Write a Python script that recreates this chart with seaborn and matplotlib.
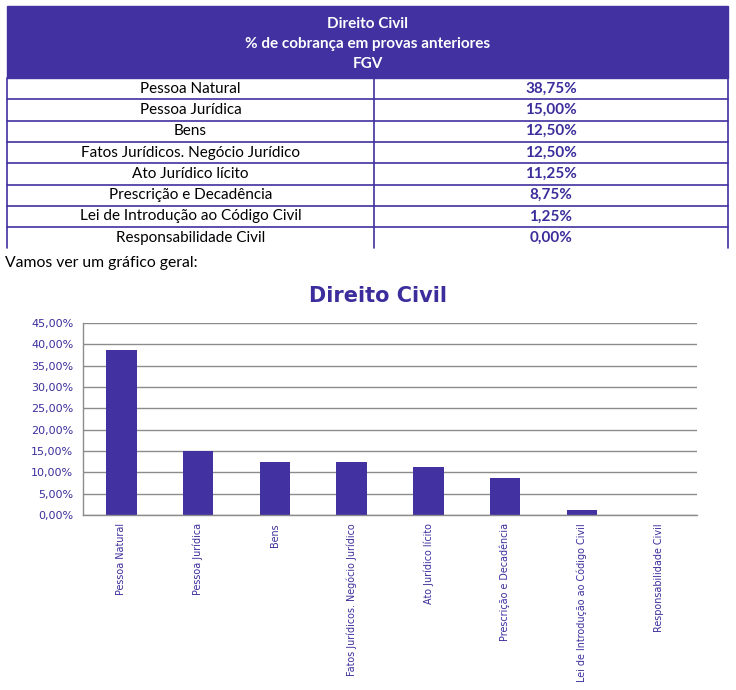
import matplotlib
matplotlib.use("Agg")
import matplotlib.pyplot as plt
import seaborn as sns
import pandas as pd
from matplotlib.patches import Rectangle
from matplotlib.lines import Line2D
from matplotlib.ticker import FixedLocator, FuncFormatter

categories = ["Pessoa Natural", "Pessoa Jurídica", "Bens",
              "Fatos Jurídicos. Negócio Jurídico", "Ato Jurídico lícito",
              "Prescrição e Decadência", "Lei de Introdução ao Código Civil",
              "Responsabilidade Civil"]
values = [38.75, 15.00, 12.50, 12.50, 11.25, 8.75, 1.25, 0.00]
header_lines = ["Direito Civil", "% de cobrança em provas anteriores", "FGV"]
intro_text = "Vamos ver um gráfico geral:"
chart_title = "Direito Civil"
y_ticks = [0, 5, 10, 15, 20, 25, 30, 35, 40, 45]

PURPLE = "#4131a1"
TXT_PURPLE = "#3b2e9c"
W, H = 736, 690

sns.set_style("white")
plt.rcParams['font.family'] = ['Lato', 'DejaVu Sans']

fig = plt.figure(figsize=(W / 100, H / 100), dpi=100)

def fx(x):
    return x / W

def fy(y):
    return 1 - y / H

# ---- table ----
tl, tr, tmid = 7, 728, 374
htop, hbot = 6, 78
row_h = 21.3
fig.patches.append(Rectangle((fx(tl), fy(hbot)), fx(tr) - fx(tl), fy(htop) - fy(hbot),
                             transform=fig.transFigure, facecolor=PURPLE,
                             edgecolor=PURPLE, lw=1))
for i, line in enumerate(header_lines):
    fig.text(fx((tl + tr) / 2), fy(23.5 + i * 20.5), line, color="white",
             fontsize=11, fontweight="bold", ha="center", va="center")

n = len(categories)
bottom = hbot + n * row_h
lc = PURPLE
fig.add_artist(Line2D([fx(tl), fx(tl)], [fy(hbot), fy(bottom)], color=lc, lw=1.2))
fig.add_artist(Line2D([fx(tr), fx(tr)], [fy(hbot), fy(bottom)], color=lc, lw=1.2))
fig.add_artist(Line2D([fx(tmid), fx(tmid)], [fy(hbot), fy(bottom)], color=lc, lw=1.2))
for i, (c, v) in enumerate(zip(categories, values)):
    y0 = hbot + i * row_h
    if i > 0:
        fig.add_artist(Line2D([fx(tl), fx(tr)], [fy(y0), fy(y0)], color=lc, lw=1.2))
    yc = y0 + row_h / 2
    fig.text(fx((tl + tmid) / 2), fy(yc), c, color="black", fontsize=11,
             ha="center", va="center")
    fig.text(fx((tmid + tr) / 2), fy(yc), f"{v:.2f}%".replace(".", ","),
             color=TXT_PURPLE, fontsize=11, fontweight="bold",
             ha="center", va="center")

fig.text(fx(5), fy(263), intro_text, color="black", fontsize=11.3,
         ha="left", va="center")

# ---- chart ----
ax = fig.add_axes([fx(83), fy(515), fx(697) - fx(83), fy(323) - fy(515)])
df = pd.DataFrame({"cat": categories, "val": values})
sns.barplot(data=df, x="cat", y="val", color=PURPLE, saturation=1,
            width=0.4, linewidth=0, ax=ax)
ax.set_xlim(-0.5, n - 0.5)
ax.set_ylim(0, 45)
ax.set_yticks(y_ticks)
ax.yaxis.set_major_formatter(FuncFormatter(lambda v, p: f"{v:.2f}%".replace(".", ",")))
ax.grid(axis="y", color="#8c8c8c", lw=1)
ax.set_axisbelow(True)
for s in ["top", "right"]:
    ax.spines[s].set_visible(False)
for s in ["left", "bottom"]:
    ax.spines[s].set_color("#8c8c8c")
    ax.spines[s].set_linewidth(1)
ax.set_xlabel("")
ax.set_ylabel("")
ax.tick_params(axis="x", which="major", length=0, pad=6, labelrotation=90,
               labelsize=6.9, labelcolor=TXT_PURPLE)
ax.xaxis.set_minor_locator(FixedLocator([i - 0.5 for i in range(n + 1)]))
ax.tick_params(axis="x", which="minor", length=4, color="#8c8c8c", width=1)
ax.tick_params(axis="y", length=4, color="#8c8c8c", width=1, labelsize=8,
               labelcolor=TXT_PURPLE, pad=3)
for lab in ax.get_xticklabels():
    lab.set_fontfamily("DejaVu Sans")
    lab.set_va("top")
for lab in ax.get_yticklabels():
    lab.set_fontfamily("DejaVu Sans")

fig.text(fx(378), fy(296), chart_title, color=TXT_PURPLE, fontsize=15,
         fontweight="bold", ha="center", va="center", family="DejaVu Sans")

fig.savefig("out.png", dpi=100)
